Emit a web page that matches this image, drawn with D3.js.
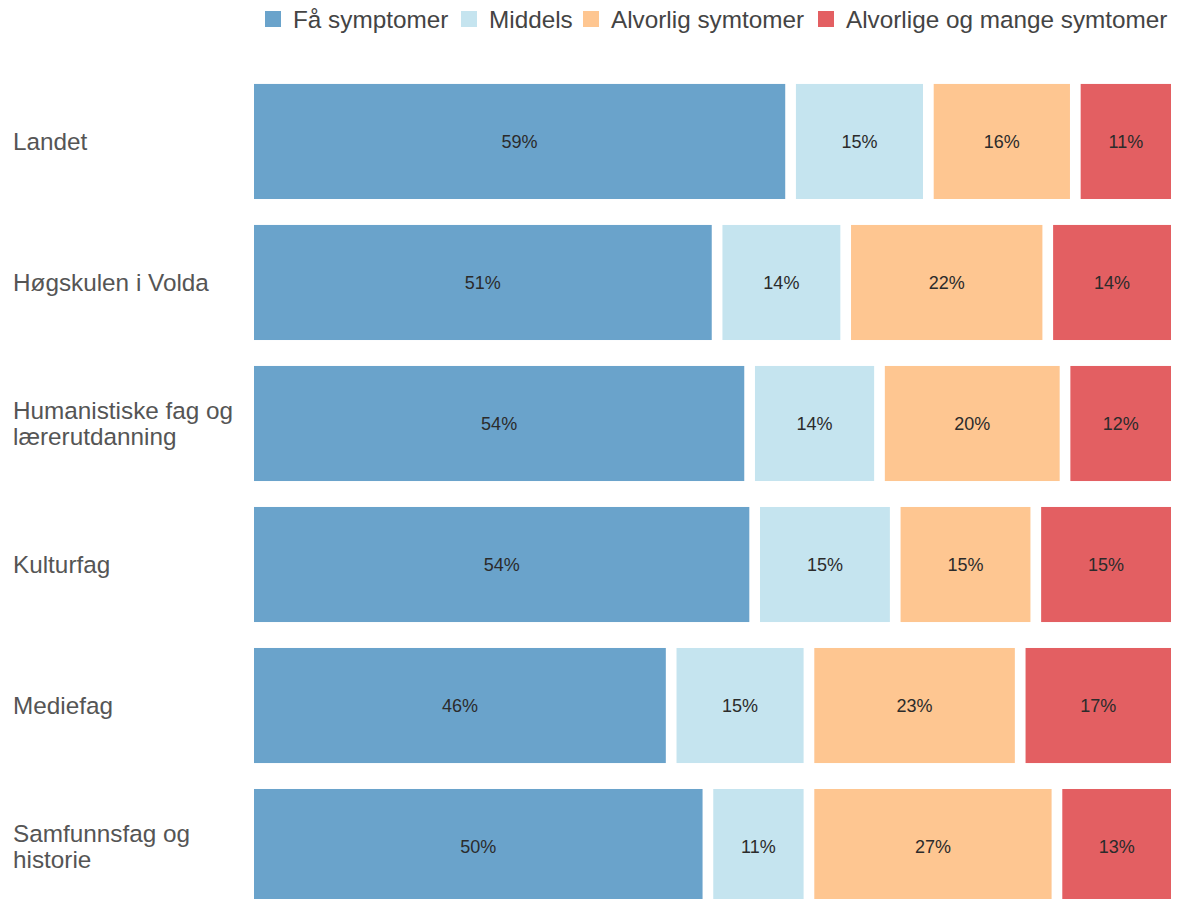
<!DOCTYPE html>
<html lang="no">
<head>
  <meta charset="UTF-8">
  <title>Symptomer</title>
  <script src="https://d3js.org/d3.v7.min.js"></script>
  <style>
    * { margin: 0; padding: 0; box-sizing: border-box; }
    body { background: #fff; font-family: 'Liberation Sans', Arial, sans-serif; overflow: hidden; }
    svg { display: block; }
  </style>
</head>
<body>
  <div id="chart"></div>
  <script>
    // Data
    const categories = ["Landet", "Høgskulen i Volda", "Humanistiske fag og\nlærerutdanning",
                        "Kulturfag", "Mediefag", "Samfunnsfag og\nhistorie"];
    const groups = ["Få symptomer", "Middels", "Alvorlig symtomer", "Alvorlige og mange symtomer"];
    const faa       = [59, 51, 54, 54, 46, 50];
    const middels   = [15, 14, 14, 15, 15, 11];
    const alvorlig  = [16, 22, 20, 15, 23, 27];
    const mange     = [11, 14, 12, 15, 17, 13];
    const colors = ["#6aa3cb", "#c5e4ef", "#fec691", "#e35f62"];

    const width = 1179, height = 899;
    const gap = 10.7;

    const svg = d3.select("#chart").append("svg")
      .attr("width", width).attr("height", height);

    const series = [faa, middels, alvorlig, mange];

    const x = d3.scaleLinear().domain([0, 1]).range([254 - gap / 2, 1171 + gap / 2]);
    const y = d3.scaleBand().domain(categories).range([58, 930]).padding(0.184);

    // rows of stacked segments, each row normalised to its own total
    categories.forEach((cat, i) => {
      const vals = series.map(s => s[i]);
      const total = d3.sum(vals);
      let cum = 0;
      const row = svg.append("g");
      vals.forEach((v, j) => {
        const x0 = x(cum / total) + gap / 2;
        const x1 = x((cum + v) / total) - gap / 2;
        cum += v;
        row.append("rect")
          .attr("x", x0).attr("y", y(cat))
          .attr("width", x1 - x0).attr("height", y.bandwidth())
          .attr("fill", colors[j]);
        row.append("text")
          .attr("x", (x0 + x1) / 2)
          .attr("y", y(cat) + y.bandwidth() / 2)
          .attr("dy", "0.36em")
          .attr("text-anchor", "middle")
          .attr("font-size", 18)
          .attr("fill", "#2b2b2b")
          .text(v + "%");
      });
    });

    // category labels
    categories.forEach(cat => {
      const lines = cat.split("\n");
      const cy = y(cat) + y.bandwidth() / 2;
      const lh = 26;
      const t = svg.append("text")
        .attr("font-size", 24.3)
        .attr("fill", "#555");
      lines.forEach((ln, k) => {
        t.append("tspan")
          .attr("x", 13)
          .attr("y", cy + (k - (lines.length - 1) / 2) * lh)
          .attr("dy", "0.36em")
          .text(ln);
      });
    });

    // legend
    const legend = svg.append("g");
    const legendX = [265, 461, 583, 818];
    groups.forEach((g, j) => {
      legend.append("rect")
        .attr("x", legendX[j]).attr("y", 11)
        .attr("width", 16).attr("height", 16)
        .attr("fill", colors[j]);
      legend.append("text")
        .attr("x", legendX[j] + 28).attr("y", 19)
        .attr("dy", "0.36em")
        .attr("font-size", 24.3)
        .attr("fill", "#444")
        .text(g);
    });
  </script>
</body>
</html>
